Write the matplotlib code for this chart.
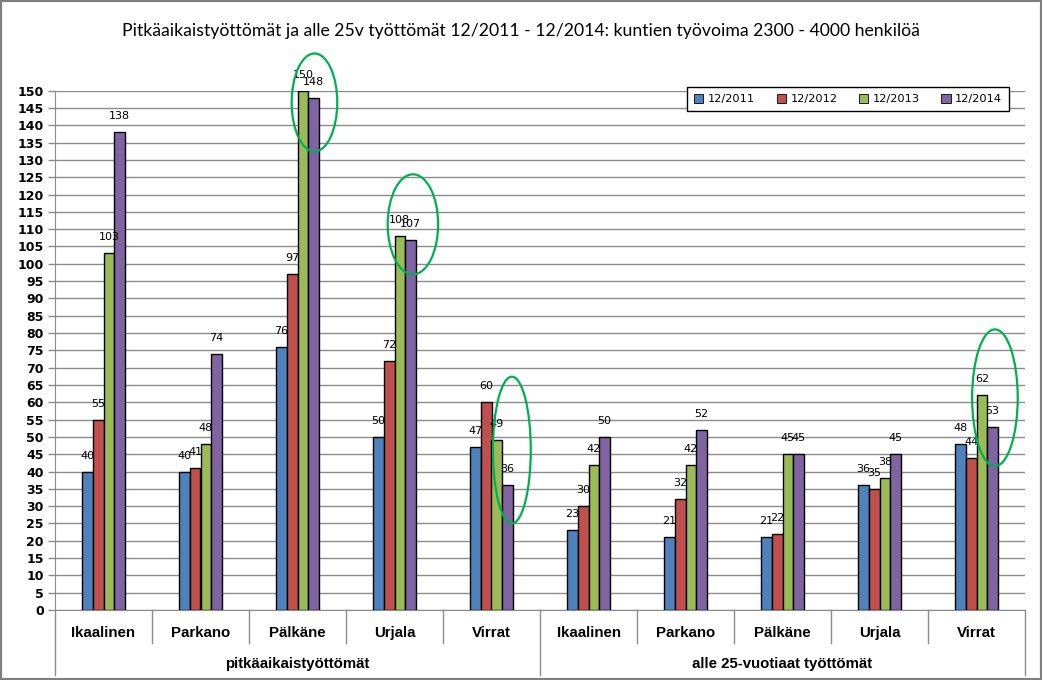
"""Pitkäaikaistyöttömät ja alle 25v työttömät -- clustered bar chart (Excel style)."""

import matplotlib
matplotlib.use("Agg")
import matplotlib.pyplot as plt
import numpy as np
from matplotlib.patches import Ellipse, Rectangle
from matplotlib.transforms import blended_transform_factory

TITLE = ("Pitkäaikaistyöttömät ja alle 25v työttömät 12/2011 - 12/2014: "
         "kuntien työvoima 2300 - 4000 henkilöä")

municipalities = ["Ikaalinen", "Parkano", "Pälkäne", "Urjala", "Virrat"]
groups = ["pitkäaikaistyöttömät", "alle 25-vuotiaat työttömät"]
categories = municipalities + municipalities

series_names = ["12/2011", "12/2012", "12/2013", "12/2014"]
v_2011 = [40, 40, 76, 50, 47, 23, 21, 21, 36, 48]
v_2012 = [55, 41, 97, 72, 60, 30, 32, 22, 35, 44]
v_2013 = [103, 48, 150, 108, 49, 42, 42, 45, 38, 62]
v_2014 = [138, 74, 148, 107, 36, 50, 52, 45, 45, 53]
series_values = [v_2011, v_2012, v_2013, v_2014]
colors = ["#4F81BD", "#C0504D", "#9BBB59", "#8064A2"]

# highlighted spots: (center x in category units, center y, width, height)
highlights = [
    (2.175, 146.6, 0.47, 28.3),
    (3.19, 111.4, 0.52, 28.9),
    (4.21, 46.2, 0.39, 42.4),
    (9.19, 61.3, 0.47, 39.5),
]

GRID = "#8c8c8c"

fig = plt.figure(figsize=(10.42, 6.8), dpi=100)
ax = fig.add_axes([55 / 1042, 70 / 680, 970 / 1042, 519.3 / 680])

x = np.arange(len(categories))
bar_w = 0.11
offsets = (np.arange(4) - 1.5) * bar_w
for vals, off, col, name in zip(series_values, offsets, colors, series_names):
    bars = ax.bar(x + off, vals, width=bar_w, color=col, edgecolor="black",
                  linewidth=1.0, label=name, zorder=3)
    for b, v in zip(bars, vals):
        ax.annotate(str(v), (b.get_x() + b.get_width() / 2, v),
                    xytext=(0, 11.5), textcoords="offset points",
                    ha="center", va="center", fontsize=8,
                    family="DejaVu Sans", zorder=5)

for cx, cy, w, h in highlights:
    ax.add_patch(Ellipse((cx, cy), w, h, fill=False, edgecolor="#00B050",
                         linewidth=1.6, zorder=6, clip_on=False))

ax.set_xlim(-0.5, len(categories) - 0.5)
ax.set_ylim(0, 150)
ax.set_yticks(np.arange(0, 151, 5))
ax.yaxis.grid(True, color=GRID, linewidth=1.0, zorder=0)
ax.set_axisbelow(True)
for s in ("top", "right"):
    ax.spines[s].set_visible(False)
ax.spines["left"].set_color(GRID)
ax.spines["bottom"].set_color(GRID)
ax.tick_params(axis="y", colors=GRID, length=5, width=1, labelcolor="black",
               labelsize=9, pad=3)
for lbl in ax.get_yticklabels():
    lbl.set_fontweight("bold")
ax.set_xticks([])

# two-level category axis
trans = blended_transform_factory(ax.transData, ax.transAxes)
for i in range(len(categories) + 1):
    edge = i - 0.5
    long_line = i % 5 == 0
    ax.plot([edge, edge], [0, -0.125 if long_line else -0.063],
            color=GRID, linewidth=1.0, transform=trans, clip_on=False)
for i, name in enumerate(categories):
    ax.text(i, -0.0437, name, transform=trans, ha="center", va="center",
            fontsize=10.8, fontweight="bold", family="Liberation Sans")
for g, name in enumerate(groups):
    ax.text(g * 5 + 2, -0.104, name, transform=trans, ha="center",
            va="center", fontsize=10.8, fontweight="bold",
            family="Liberation Sans")

leg = ax.legend(loc="upper right", bbox_to_anchor=(0.9835, 1.007), ncol=4,
                frameon=True, fancybox=False, edgecolor="black",
                handlelength=0.8, handleheight=0.8, handletextpad=0.4,
                columnspacing=1.9, borderpad=0.6, borderaxespad=0,
                prop={"family": "DejaVu Sans", "size": 8.2})
leg.get_frame().set_linewidth(1.0)
leg.get_frame().set_alpha(1)
for h in leg.legend_handles:
    h.set_linewidth(0.6)

fig.text(0.5, 1 - 30.7 / 680, TITLE, ha="center", va="center",
         fontsize=12.7, family="Lato")

fig.patches.append(Rectangle((0, 0), 1, 1, transform=fig.transFigure,
                             fill=False, edgecolor="#7f7f7f", linewidth=3))

fig.savefig("out.png", dpi=100)
